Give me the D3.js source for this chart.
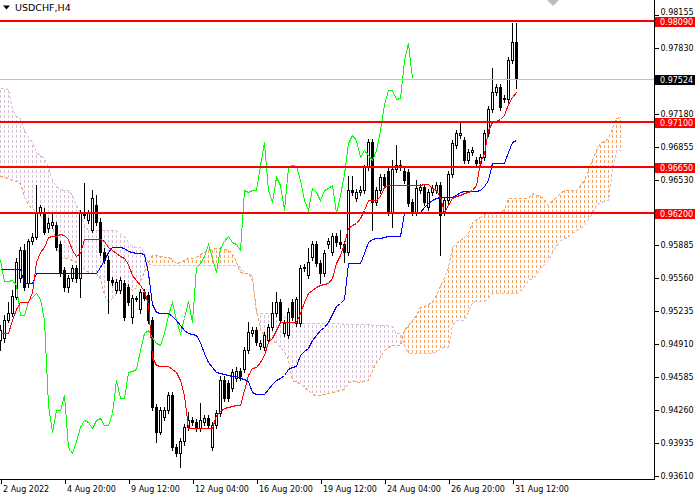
<!DOCTYPE html>
<html><head><meta charset="utf-8">
<script src="https://cdn.jsdelivr.net/npm/d3@7"></script>
<style>
body{margin:0;background:#fff;}
svg{display:block;}
text{font-family:"DejaVu Sans",Verdana,sans-serif;}
</style>
</head><body>
<svg id="c" width="700" height="500"></svg>
<script>
const symbol = "USDCHF,H4";
const timeLabels = ["2 Aug 2022","4 Aug 20:00","9 Aug 12:00","12 Aug 04:00","16 Aug 20:00","19 Aug 12:00","24 Aug 04:00","26 Aug 20:00","31 Aug 12:00"];
const timeLabelBars = [0,16,32,48,64,80,96,112,128];
const priceTicks = [0.98155,0.97830,0.97180,0.96855,0.96530,0.95885,0.95560,0.95235,0.94910,0.94585,0.94260,0.93935,0.93610];
const levels = [0.98090,0.97100,0.96650,0.96200];
const lastPrice = 0.97524;

const opens = [0.9495,0.9497,0.9515,0.9522,0.9537,0.9556,0.9584,0.9551,0.9592,0.9596,
0.9620,0.9621,0.9605,0.9608,0.9608,0.9589,0.9564,0.9547,0.9556,0.9566,
0.9556,0.9621,0.9613,0.9603,0.9628,0.9611,0.9582,0.9574,0.9554,0.9544,
0.9544,0.9551,0.9547,0.9518,0.9535,0.9525,0.9542,0.9539,0.9515,0.9429,
0.9404,0.9419,0.9426,0.9441,0.9390,0.9384,0.9395,0.9409,0.9416,0.9414,
0.9408,0.9414,0.9418,0.9390,0.9411,0.9423,0.9456,0.9453,0.9448,0.9458,
0.9464,0.9466,0.9485,0.9502,0.9505,0.9489,0.9488,0.9495,0.9508,0.9522,
0.9532,0.9502,0.9500,0.9532,0.9512,0.9512,0.9566,0.9559,0.9577,0.9589,
0.9571,0.9561,0.9589,0.9582,0.9597,0.9591,0.9589,0.9582,0.9643,0.9635,
0.9641,0.9643,0.9665,0.9690,0.9631,0.9643,0.9655,0.9661,0.9621,0.9663,
0.9665,0.9661,0.9660,0.9631,0.9621,0.9643,0.9646,0.9626,0.9641,0.9643,
0.9648,0.9621,0.9633,0.9658,0.9687,0.9697,0.9692,0.9672,0.9680,0.9672,
0.9669,0.9675,0.9699,0.9722,0.9739,0.9744,0.9733,0.9732,0.9771,0.9788];
const highs = [0.9510,0.9520,0.9532,0.9544,0.9576,0.9587,0.9589,0.9594,0.9600,0.9648,
0.9628,0.9625,0.9615,0.9619,0.9611,0.9592,0.9567,0.9559,0.9569,0.9569,
0.9623,0.9650,0.9623,0.9643,0.9638,0.9615,0.9586,0.9578,0.9557,0.9555,
0.9557,0.9554,0.9550,0.9539,0.9538,0.9545,0.9545,0.9542,0.9518,0.9432,
0.9429,0.9429,0.9444,0.9444,0.9393,0.9398,0.9412,0.9424,0.9419,0.9417,
0.9433,0.9421,0.9421,0.9414,0.9426,0.9459,0.9459,0.9456,0.9466,0.9468,
0.9467,0.9488,0.9513,0.9508,0.9508,0.9495,0.9503,0.9511,0.9532,0.9542,
0.9535,0.9515,0.9526,0.9535,0.9537,0.9569,0.9570,0.9586,0.9592,0.9592,
0.9574,0.9584,0.9595,0.9600,0.9600,0.9603,0.9592,0.9656,0.9656,0.9644,
0.9647,0.9667,0.9693,0.9693,0.9646,0.9658,0.9658,0.9664,0.9672,0.9687,
0.9672,0.9664,0.9663,0.9634,0.9653,0.9649,0.9649,0.9644,0.9648,0.9651,
0.9651,0.9636,0.9661,0.9692,0.9702,0.9709,0.9695,0.9683,0.9685,0.9675,
0.9678,0.9702,0.9725,0.9763,0.9747,0.9747,0.9736,0.9774,0.9807,0.9807];
const lows = [0.9485,0.9493,0.9513,0.9519,0.9535,0.9552,0.9544,0.9547,0.9589,0.9594,
0.9618,0.9599,0.9601,0.9605,0.9584,0.9558,0.9543,0.9542,0.9553,0.9552,
0.9537,0.9615,0.9610,0.9601,0.9608,0.9579,0.9571,0.9522,0.9549,0.9541,
0.9541,0.9515,0.9529,0.9512,0.9533,0.9522,0.9534,0.9512,0.9426,0.9394,
0.9402,0.9416,0.9423,0.9387,0.9381,0.9370,0.9392,0.9406,0.9411,0.9405,
0.9405,0.9411,0.9408,0.9387,0.9408,0.9420,0.9435,0.9435,0.9445,0.9455,
0.9456,0.9463,0.9482,0.9499,0.9490,0.9486,0.9485,0.9492,0.9505,0.9519,
0.9512,0.9499,0.9497,0.9515,0.9509,0.9509,0.9563,0.9556,0.9574,0.9568,
0.9551,0.9558,0.9586,0.9579,0.9588,0.9586,0.9572,0.9579,0.9638,0.9632,
0.9638,0.9640,0.9662,0.9603,0.9628,0.9640,0.9645,0.9618,0.9606,0.9660,
0.9662,0.9650,0.9627,0.9618,0.9618,0.9640,0.9628,0.9623,0.9638,0.9640,
0.9579,0.9618,0.9630,0.9655,0.9684,0.9694,0.9669,0.9669,0.9677,0.9666,
0.9666,0.9672,0.9696,0.9719,0.9736,0.9721,0.9729,0.9729,0.9768,0.9743];
const closes = [0.9505,0.9515,0.9522,0.9538,0.9572,0.9584,0.9547,0.9592,0.9596,0.9620,
0.9626,0.9601,0.9610,0.9611,0.9587,0.9561,0.9547,0.9556,0.9566,0.9556,
0.9621,0.9618,0.9620,0.9635,0.9611,0.9582,0.9574,0.9554,0.9552,0.9552,
0.9554,0.9518,0.9532,0.9536,0.9536,0.9542,0.9536,0.9515,0.9429,0.9404,
0.9426,0.9426,0.9441,0.9390,0.9384,0.9395,0.9409,0.9416,0.9414,0.9408,
0.9416,0.9418,0.9411,0.9411,0.9423,0.9456,0.9438,0.9438,0.9463,0.9464,
0.9459,0.9485,0.9503,0.9505,0.9493,0.9492,0.9500,0.9508,0.9522,0.9532,
0.9515,0.9512,0.9523,0.9518,0.9535,0.9566,0.9567,0.9572,0.9589,0.9571,
0.9561,0.9581,0.9592,0.9597,0.9591,0.9589,0.9582,0.9643,0.9641,0.9641,
0.9643,0.9665,0.9690,0.9631,0.9643,0.9655,0.9648,0.9621,0.9663,0.9667,
0.9667,0.9653,0.9630,0.9621,0.9645,0.9646,0.9631,0.9641,0.9645,0.9648,
0.9618,0.9633,0.9658,0.9689,0.9699,0.9699,0.9672,0.9680,0.9682,0.9669,
0.9675,0.9699,0.9722,0.9739,0.9744,0.9724,0.9732,0.9771,0.9788,0.97524];

const tenkan = [0.9502,0.9502,0.9502,0.9515,0.9525,0.9532,0.9532,0.9532,0.9542,0.9572,
0.9582,0.9587,0.9596,0.9597,0.9597,0.9599,0.9598,0.9594,0.9584,0.9578,
0.9581,0.9594,0.9594,0.9594,0.9594,0.9594,0.9592,0.9587,0.9584,0.9581,
0.9578,0.9576,0.9570,0.9559,0.9554,0.9549,0.9543,0.9530,0.9478,0.9470,
0.9469,0.9469,0.9469,0.9466,0.9463,0.9456,0.9441,0.9408,0.9408,0.9408,
0.9408,0.9408,0.9408,0.9408,0.9421,0.9425,0.9428,0.9429,0.9430,0.9431,
0.9431,0.9446,0.9460,0.9467,0.9468,0.9473,0.9480,0.9493,0.9497,0.9505,
0.9513,0.9513,0.9513,0.9513,0.9513,0.9522,0.9532,0.9541,0.9544,0.9547,
0.9549,0.9550,0.9551,0.9556,0.9571,0.9579,0.9589,0.9605,0.9608,0.9610,
0.9615,0.9623,0.9633,0.9633,0.9633,0.9637,0.9646,0.9648,0.9648,0.9648,
0.9648,0.9648,0.9648,0.9648,0.9648,0.9648,0.9649,0.9649,0.9645,0.9643,
0.9636,0.9621,0.9628,0.9635,0.9637,0.9638,0.9640,0.9641,0.9643,0.9648,
0.9670,0.9679,0.9702,0.9710,0.9711,0.9713,0.9717,0.9727,0.9734,0.9739];
const kijun = [0.9565,0.9565,0.9565,0.9565,0.9565,0.9565,0.9551,0.9551,0.9551,0.9561,
0.9561,0.9561,0.9561,0.9561,0.9561,0.9561,0.9561,0.9561,0.9561,0.9561,
0.9561,0.9561,0.9561,0.9561,0.9561,0.9567,0.9574,0.9582,0.9587,0.9587,
0.9587,0.9586,0.9583,0.9582,0.9581,0.9581,0.9580,0.9561,0.9530,0.9523,
0.9522,0.9522,0.9522,0.9519,0.9515,0.9510,0.9505,0.9502,0.9501,0.9500,
0.9493,0.9482,0.9473,0.9468,0.9463,0.9462,0.9461,0.9460,0.9459,0.9459,
0.9458,0.9457,0.9455,0.9444,0.9442,0.9442,0.9442,0.9447,0.9452,0.9456,
0.9458,0.9460,0.9466,0.9468,0.9469,0.9480,0.9484,0.9487,0.9495,0.9500,
0.9505,0.9508,0.9513,0.9521,0.9528,0.9531,0.9535,0.9571,0.9571,0.9571,
0.9571,0.9581,0.9591,0.9594,0.9595,0.9595,0.9596,0.9597,0.9597,0.9597,
0.9597,0.9620,0.9621,0.9621,0.9621,0.9621,0.9626,0.9630,0.9633,0.9635,
0.9636,0.9636,0.9636,0.9636,0.9638,0.9641,0.9642,0.9642,0.9642,0.9642,
0.9643,0.9647,0.9653,0.9669,0.9669,0.9669,0.9669,0.9680,0.9690,0.9692];
const chikou = [0.9574,0.9553,0.9553,0.9554,0.9549,0.9520,0.9520,0.9533,0.9537,0.9541,
0.9535,0.9515,0.9431,0.9404,0.9426,0.9426,0.9441,0.9390,0.9384,0.9395,
0.9409,0.9416,0.9414,0.9408,0.9416,0.9418,0.9411,0.9411,0.9423,0.9456,
0.9438,0.9438,0.9463,0.9464,0.9466,0.9485,0.9502,0.9505,0.9498,0.9492,
0.9490,0.9502,0.9520,0.9532,0.9515,0.9502,0.9517,0.9533,0.9513,0.9567,
0.9571,0.9578,0.9589,0.9576,0.9562,0.9586,0.9592,0.9597,0.9591,0.9589,
0.9584,0.9643,0.9641,0.9643,0.9643,0.9667,0.9690,0.9643,0.9631,0.9655,
0.9648,0.9623,0.9665,0.9667,0.9666,0.9653,0.9633,0.9623,0.9645,0.9641,
0.9633,0.9643,0.9645,0.9648,0.9620,0.9638,0.9658,0.9689,0.9697,0.9692,
0.9675,0.9682,0.9677,0.9672,0.9682,0.9702,0.9727,0.9741,0.9741,0.9732,
0.9733,0.9771,0.9787,0.9753];
const spanA = [0.9656,0.9655,0.9654,0.9653,0.9652,0.9650,0.9637,0.9628,0.9625,0.9621,
0.9617,0.9614,0.9611,0.9608,0.9589,0.9576,0.9576,0.9576,0.9574,0.9572,
0.9569,0.9565,0.9562,0.9561,0.9561,0.9556,0.9539,0.9533,0.9535,0.9541,
0.9547,0.9551,0.9548,0.9544,0.9547,0.9554,0.9562,0.9572,0.9579,0.9579,
0.9578,0.9577,0.9577,0.9575,0.9571,0.9572,0.9574,0.9576,0.9576,0.9577,
0.9580,0.9582,0.9584,0.9585,0.9586,0.9586,0.9585,0.9584,0.9581,0.9572,
0.9562,0.9561,0.9561,0.9554,0.9525,0.9505,0.9500,0.9498,0.9495,0.9492,
0.9488,0.9484,0.9475,0.9456,0.9454,0.9453,0.9449,0.9446,0.9442,0.9441,
0.9441,0.9442,0.9443,0.9444,0.9445,0.9446,0.9447,0.9453,0.9456,0.9454,
0.9454,0.9455,0.9456,0.9465,0.9473,0.9478,0.9485,0.9488,0.9490,0.9490,
0.9490,0.9505,0.9510,0.9515,0.9520,0.9527,0.9528,0.9530,0.9532,0.9539,
0.9549,0.9556,0.9567,0.9587,0.9590,0.9593,0.9596,0.9600,0.9611,0.9614,
0.9616,0.9619,0.9621,0.9621,0.9621,0.9621,0.9624,0.9635,0.9635,0.9635,
0.9635,0.9635,0.9635,0.9640,0.9638,0.9637,0.9634,0.9628,0.9633,0.9636,
0.9640,0.9643,0.9643,0.9643,0.9643,0.9648,0.9653,0.9663,0.9672,0.9682,
0.9689,0.9691,0.9694,0.9704,0.9714,0.9715];
const spanB = [0.9743,0.9743,0.9742,0.9722,0.9716,0.9714,0.9702,0.9695,0.9690,0.9680,
0.9677,0.9674,0.9665,0.9653,0.9647,0.9644,0.9643,0.9643,0.9638,0.9628,
0.9620,0.9608,0.9603,0.9603,0.9603,0.9603,0.9603,0.9603,0.9603,0.9603,
0.9600,0.9597,0.9591,0.9588,0.9587,0.9587,0.9581,0.9571,0.9569,0.9569,
0.9569,0.9569,0.9569,0.9569,0.9569,0.9569,0.9569,0.9569,0.9569,0.9569,
0.9569,0.9569,0.9569,0.9569,0.9569,0.9569,0.9569,0.9569,0.9569,0.9569,
0.9567,0.9561,0.9561,0.9558,0.9522,0.9522,0.9522,0.9522,0.9522,0.9522,
0.9522,0.9519,0.9515,0.9512,0.9512,0.9512,0.9512,0.9512,0.9512,0.9512,
0.9512,0.9512,0.9512,0.9512,0.9512,0.9512,0.9511,0.9511,0.9511,0.9511,
0.9511,0.9511,0.9511,0.9510,0.9510,0.9510,0.9510,0.9510,0.9509,0.9502,
0.9502,0.9490,0.9482,0.9482,0.9482,0.9482,0.9482,0.9482,0.9482,0.9483,
0.9487,0.9488,0.9488,0.9510,0.9515,0.9515,0.9515,0.9523,0.9532,0.9533,
0.9533,0.9533,0.9536,0.9541,0.9541,0.9541,0.9541,0.9541,0.9541,0.9541,
0.9543,0.9548,0.9554,0.9556,0.9559,0.9566,0.9570,0.9574,0.9582,0.9588,
0.9593,0.9595,0.9596,0.9600,0.9603,0.9605,0.9608,0.9614,0.9620,0.9628,
0.9631,0.9632,0.9633,0.9663,0.9682,0.9682];

const ORANGE = "#F4A460", THISTLE = "#D8BFD8";
const plotW = 654, plotH = 479;
const svg = d3.select("#c");
const x = d3.scaleLinear().domain([0, 163.5]).range([0, plotW]);
const y = d3.scaleLinear().domain([0.93610, 0.98155]).range([476, 14.5]);
const px = i => Math.round(x(i)) + 0.5;
const py = v => Math.round(y(v)) + 0.5;

svg.append("defs").append("clipPath").attr("id", "plot")
  .append("rect").attr("x", 0).attr("y", 0).attr("width", plotW).attr("height", plotH);
const plot = svg.append("g").attr("clip-path", "url(#plot)");

// Ichimoku cloud hatch (vertical dotted columns)
const cIdx = d3.range(spanA.length);
plot.append("g").selectAll("line").data(cIdx).join("line")
  .attr("x1", px).attr("x2", px)
  .attr("y1", i => Math.round(y(Math.max(spanA[i], spanB[i]))))
  .attr("y2", i => Math.round(y(Math.min(spanA[i], spanB[i]))))
  .attr("stroke", i => spanA[i] >= spanB[i] ? ORANGE : THISTLE)
  .attr("stroke-width", 1)
  .attr("stroke-dasharray", "3,2")
  .attr("stroke-dashoffset", i => Math.round(y(Math.max(spanA[i], spanB[i]))) % 5)
  .attr("shape-rendering", "crispEdges");

const line = d3.line().x((d, i) => px(i)).y(d => py(d));
plot.append("path").attr("d", line(spanB)).attr("fill", "none").attr("stroke", THISTLE)
  .attr("stroke-dasharray", "3,2").attr("shape-rendering", "crispEdges");
plot.append("path").attr("d", line(spanA)).attr("fill", "none").attr("stroke", ORANGE)
  .attr("stroke-dasharray", "3,2").attr("shape-rendering", "crispEdges");

// Candles
const bIdx = d3.range(closes.length);
const cg = plot.append("g").attr("shape-rendering", "crispEdges");
cg.selectAll("line").data(bIdx).join("line")
  .attr("x1", px).attr("x2", px)
  .attr("y1", i => Math.round(y(highs[i]))).attr("y2", i => Math.round(y(lows[i])) + 1)
  .attr("stroke", "#000");
cg.selectAll("rect").data(bIdx).join("rect")
  .attr("x", i => Math.round(x(i)) - 0.5)
  .attr("width", 2)
  .attr("y", i => py(Math.max(opens[i], closes[i])))
  .attr("height", i => Math.max(0, Math.round(y(Math.min(opens[i], closes[i]))) - Math.round(y(Math.max(opens[i], closes[i])))))
  .attr("fill", i => closes[i] >= opens[i] ? "#fff" : "#000")
  .attr("stroke", "#000");

// Indicator lines
const drawLine = (arr, col) => plot.append("path").attr("d", line(arr)).attr("fill", "none")
  .attr("stroke", col).attr("stroke-width", 1).attr("shape-rendering", "crispEdges");
drawLine(chikou, "#00FF00");
drawLine(kijun, "#0000FF");
drawLine(tenkan, "#FF0000");

// Current price line and levels
plot.append("line").attr("x1", 0).attr("x2", plotW).attr("y1", py(lastPrice)).attr("y2", py(lastPrice))
  .attr("stroke", "#C0C0C0").attr("shape-rendering", "crispEdges");
plot.append("g").selectAll("line").data(levels).join("line")
  .attr("x1", 0).attr("x2", plotW)
  .attr("y1", d => Math.round(y(d))).attr("y2", d => Math.round(y(d)))
  .attr("stroke", "#FF0000").attr("stroke-width", 2).attr("shape-rendering", "crispEdges");

// Borders
svg.append("line").attr("x1", plotW + 0.5).attr("x2", plotW + 0.5).attr("y1", 0).attr("y2", plotH + 1).attr("stroke", "#000");
svg.append("line").attr("x1", 0).attr("x2", plotW + 1).attr("y1", plotH + 0.5).attr("y2", plotH + 0.5).attr("stroke", "#000");

// Axes
const yAxis = d3.axisRight(y).tickValues(priceTicks).tickFormat(d3.format(".5f")).tickSize(4).tickSizeOuter(0).tickPadding(2);
const ya = svg.append("g").attr("transform", `translate(${plotW + 0.5},0)`).call(yAxis);
ya.select(".domain").remove();
ya.selectAll("text").attr("font-size", 8).attr("fill", "#000").attr("font-family", "DejaVu Sans")
  .attr("dy", d => d === priceTicks[0] ? "-0.05em" : "0.32em");
ya.selectAll("line").attr("stroke", "#000").attr("shape-rendering", "crispEdges");

const xAxis = d3.axisBottom(x).tickValues(timeLabelBars).tickFormat((d, i) => timeLabels[i]).tickSize(4).tickSizeOuter(0).tickPadding(3);
const xa = svg.append("g").attr("transform", `translate(0.5,${plotH + 0.5})`).call(xAxis);
xa.select(".domain").remove();
xa.selectAll("text").attr("font-size", 8).attr("fill", "#000").attr("text-anchor", "start").attr("dx", 2).attr("font-family", "DejaVu Sans");
xa.selectAll("line").attr("stroke", "#000").attr("shape-rendering", "crispEdges");

// Price tags
const tag = (v, bg) => {
  const yy = Math.round(y(v));
  svg.append("rect").attr("x", plotW + 1).attr("y", yy - 4).attr("width", 40).attr("height", 10).attr("fill", bg);
  svg.append("text").attr("x", plotW + 6).attr("y", yy + 1).attr("dy", "0.34em").attr("font-size", 8)
    .attr("fill", "#fff").text(d3.format(".5f")(v));
};
levels.forEach(v => tag(v, "#FF0000"));
tag(lastPrice, "#000");

// Title and shift marker
svg.append("path").attr("d", "M3,5.5 L10,5.5 L6.5,9.5 Z").attr("fill", "#000");
svg.append("text").attr("x", 15).attr("y", 11).attr("font-size", 9.5).attr("fill", "#000").text(symbol);
svg.append("path").attr("d", "M547,0 L559,0 L553,6 Z").attr("fill", "#BDBDBD");
</script>
</body></html>
